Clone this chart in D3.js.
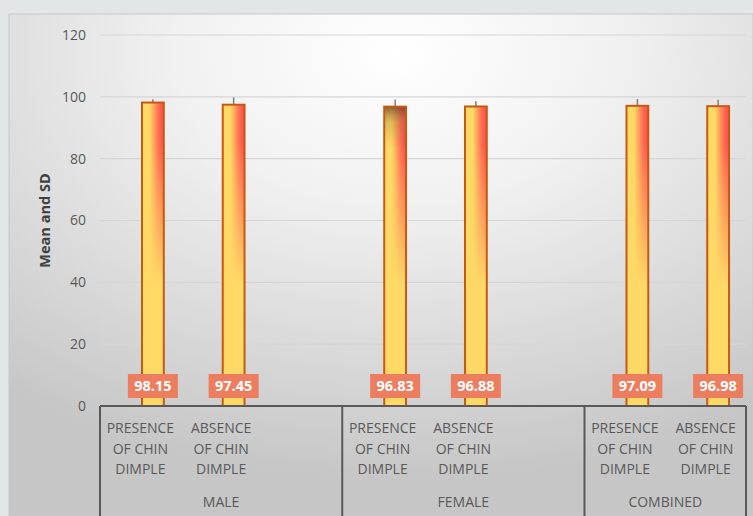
<!DOCTYPE html>
<html>
<head>
<meta charset="utf-8">
<script src="https://cdn.jsdelivr.net/npm/d3@7"></script>
<style>
  html, body { margin: 0; padding: 0; background: #e2e6e7; }
  svg { display: block; font-family: "Open Sans", "Noto Sans", sans-serif; }
</style>
</head>
<body>
<div id="chart"></div>
<script>
// chart data
const groups = ["MALE", "FEMALE", "COMBINED"];
const subCategories = ["PRESENCE OF CHIN DIMPLE", "ABSENCE OF CHIN DIMPLE"];
// empty slot left after each group (the source sheet has a blank column)
const blankSlots = [1, 1, 0];
const means = [98.15, 97.45, 96.83, 96.88, 97.09, 96.98];
const sds = [1.1, 2.4, 2.3, 1.7, 2.2, 2.1];
const yTicks = [0, 20, 40, 60, 80, 100, 120];

const W = 753, H = 516;
const margin = { top: 35, left: 100, right: 7, bottom: 110 };

// build slot list
const slots = [];
const bars = [];
let k = 0;
groups.forEach((g, gi) => {
  subCategories.forEach((c) => {
    const key = g + "|" + c;
    slots.push(key);
    bars.push({ key, group: g, label: c, mean: means[k], sd: sds[k], i: k });
    k++;
  });
  for (let b = 0; b < blankSlots[gi]; b++) slots.push(g + "|blank" + b);
});

const svg = d3.select("#chart").append("svg").attr("width", W).attr("height", H);
const defs = svg.append("defs");

// chart area background
const bg = defs.append("radialGradient").attr("id", "bgGrad")
  .attr("cx", "52%").attr("cy", "8%").attr("r", "85%");
bg.append("stop").attr("offset", "0%").attr("stop-color", "#ffffff");
bg.append("stop").attr("offset", "35%").attr("stop-color", "#f1f1f1");
bg.append("stop").attr("offset", "100%").attr("stop-color", "#c6c6c6");

// bar gradient: yellow -> red across, fading to yellow toward bottom
const hg = defs.append("linearGradient").attr("id", "barH")
  .attr("x1", "0%").attr("x2", "100%").attr("y1", "0%").attr("y2", "0%");
hg.append("stop").attr("offset", "0%").attr("stop-color", "#ffd966");
hg.append("stop").attr("offset", "35%").attr("stop-color", "#ffd966");
hg.append("stop").attr("offset", "75%").attr("stop-color", "#ff6e55");
hg.append("stop").attr("offset", "100%").attr("stop-color", "#ff4848");

const vg = defs.append("linearGradient").attr("id", "barV")
  .attr("x1", "0%").attr("x2", "0%").attr("y1", "0%").attr("y2", "100%");
vg.append("stop").attr("offset", "12%").attr("stop-color", "#ffd966").attr("stop-opacity", 0);
vg.append("stop").attr("offset", "60%").attr("stop-color", "#ffd966").attr("stop-opacity", 1);
vg.append("stop").attr("offset", "100%").attr("stop-color", "#ffd966").attr("stop-opacity", 1);

const dark = defs.append("linearGradient").attr("id", "barDark")
  .attr("x1", "0%").attr("x2", "0%").attr("y1", "0%").attr("y2", "100%");
dark.append("stop").attr("offset", "0%").attr("stop-color", "#6b3a2a").attr("stop-opacity", 0.75);
dark.append("stop").attr("offset", "5%").attr("stop-color", "#8a7030").attr("stop-opacity", 0.3);
dark.append("stop").attr("offset", "14%").attr("stop-color", "#8a7030").attr("stop-opacity", 0);

svg.append("rect").attr("x", 9).attr("y", 14).attr("width", W - 9).attr("height", H - 14)
  .attr("fill", "url(#bgGrad)").attr("stroke", "#c8c8c8").attr("stroke-width", 1);

const x = d3.scaleBand().domain(slots).range([margin.left, W - margin.right]).padding(0);
const y = d3.scaleLinear().domain([0, 120]).range([H - margin.bottom, margin.top]);

// gridlines
svg.append("g").selectAll("line").data(yTicks.filter(t => t > 0)).enter().append("line")
  .attr("x1", margin.left).attr("x2", W - margin.right)
  .attr("y1", d => y(d)).attr("y2", d => y(d))
  .attr("stroke", "#d6d6d6").attr("stroke-width", 1.2);

// y tick labels
svg.append("g").selectAll("text").data(yTicks).enter().append("text")
  .attr("x", 86).attr("y", d => y(d)).attr("dy", "0.35em")
  .attr("text-anchor", "end").attr("fill", "#595959").attr("font-size", 14)
  .text(d => d);

// y axis title
svg.append("text")
  .attr("transform", `translate(50,${y(60)}) rotate(-90)`)
  .attr("text-anchor", "middle").attr("font-size", 14.5).attr("font-weight", "bold")
  .attr("fill", "#404040").text("Mean and SD");

const bw = x.bandwidth();
const barW = bw * 0.27;
const cx = d => x(d.key) + bw * 0.655;

// error bars (upper part visible)
svg.append("g").selectAll("line").data(bars).enter().append("line")
  .attr("x1", cx).attr("x2", cx)
  .attr("y1", d => y(d.mean)).attr("y2", d => y(d.mean + d.sd))
  .attr("stroke", "#7f7f7f").attr("stroke-width", 1.5);

const barG = svg.append("g");
barG.selectAll("rect.base").data(bars).enter().append("rect")
  .attr("x", d => cx(d) - barW / 2).attr("y", d => y(d.mean))
  .attr("width", barW).attr("height", d => y(0) - y(d.mean))
  .attr("fill", "url(#barH)");
barG.selectAll("rect.fade").data(bars).enter().append("rect")
  .attr("x", d => cx(d) - barW / 2).attr("y", d => y(d.mean))
  .attr("width", barW).attr("height", d => y(0) - y(d.mean))
  .attr("fill", "url(#barV)");
// third bar has a darker top in the source
barG.selectAll("rect.dark").data(bars.filter(d => d.i === 2)).enter().append("rect")
  .attr("x", d => cx(d) - barW / 2).attr("y", d => y(d.mean))
  .attr("width", barW).attr("height", d => y(0) - y(d.mean))
  .attr("fill", "url(#barDark)");
barG.selectAll("rect.edge").data(bars).enter().append("rect")
  .attr("x", d => cx(d) - barW / 2).attr("y", d => y(d.mean))
  .attr("width", barW).attr("height", d => y(0) - y(d.mean))
  .attr("fill", "none").attr("stroke", "#c55a11").attr("stroke-width", 2);

// data labels
const lab = svg.append("g").selectAll("g").data(bars).enter().append("g")
  .attr("transform", d => `translate(${cx(d)},${y(0) - 20})`);
lab.append("rect").attr("x", -25).attr("y", -12).attr("width", 50).attr("height", 24)
  .attr("fill", "#ed7d5f");
lab.append("text").attr("text-anchor", "middle").attr("dy", "0.36em")
  .attr("fill", "#ffffff").attr("font-weight", "bold").attr("font-size", 14.5)
  .text(d => d.mean.toFixed(2));

// x axis
const axisY = y(0);
const axisG = svg.append("g").attr("stroke", "#595959").attr("stroke-width", 2);
axisG.append("line").attr("x1", margin.left).attr("x2", W - margin.right)
  .attr("y1", axisY).attr("y2", axisY);
const bounds = [];
groups.forEach((g) => {
  const keys = slots.filter(s => s.startsWith(g + "|"));
  const x0 = x(keys[0]);
  const x1 = x(keys[keys.length - 1]) + bw;
  bounds.push({ g, x0, x1 });
});
const edges = [bounds[0].x0].concat(bounds.map(b => b.x1));
axisG.selectAll("line.div").data(edges).enter().append("line")
  .attr("x1", d => d).attr("x2", d => d).attr("y1", axisY).attr("y2", H);

// category labels
const catG = svg.append("g").selectAll("text").data(bars).enter().append("text")
  .attr("text-anchor", "middle").attr("fill", "#595959").attr("font-size", 14);
catG.each(function (d) {
  const words = d.label.split(" ");
  const lines = [words[0], words[1] + " " + words[2], words[3]];
  const t = d3.select(this);
  lines.forEach((ln, li) => {
    t.append("tspan").attr("x", x(d.key) + bw / 2).attr("y", axisY + 27 + li * 20.5).text(ln);
  });
});

// group labels
svg.append("g").selectAll("text").data(bounds).enter().append("text")
  .attr("x", d => (d.x0 + d.x1) / 2).attr("y", axisY + 101)
  .attr("text-anchor", "middle").attr("fill", "#595959").attr("font-size", 14)
  .text(d => d.g);
</script>
</body>
</html>
